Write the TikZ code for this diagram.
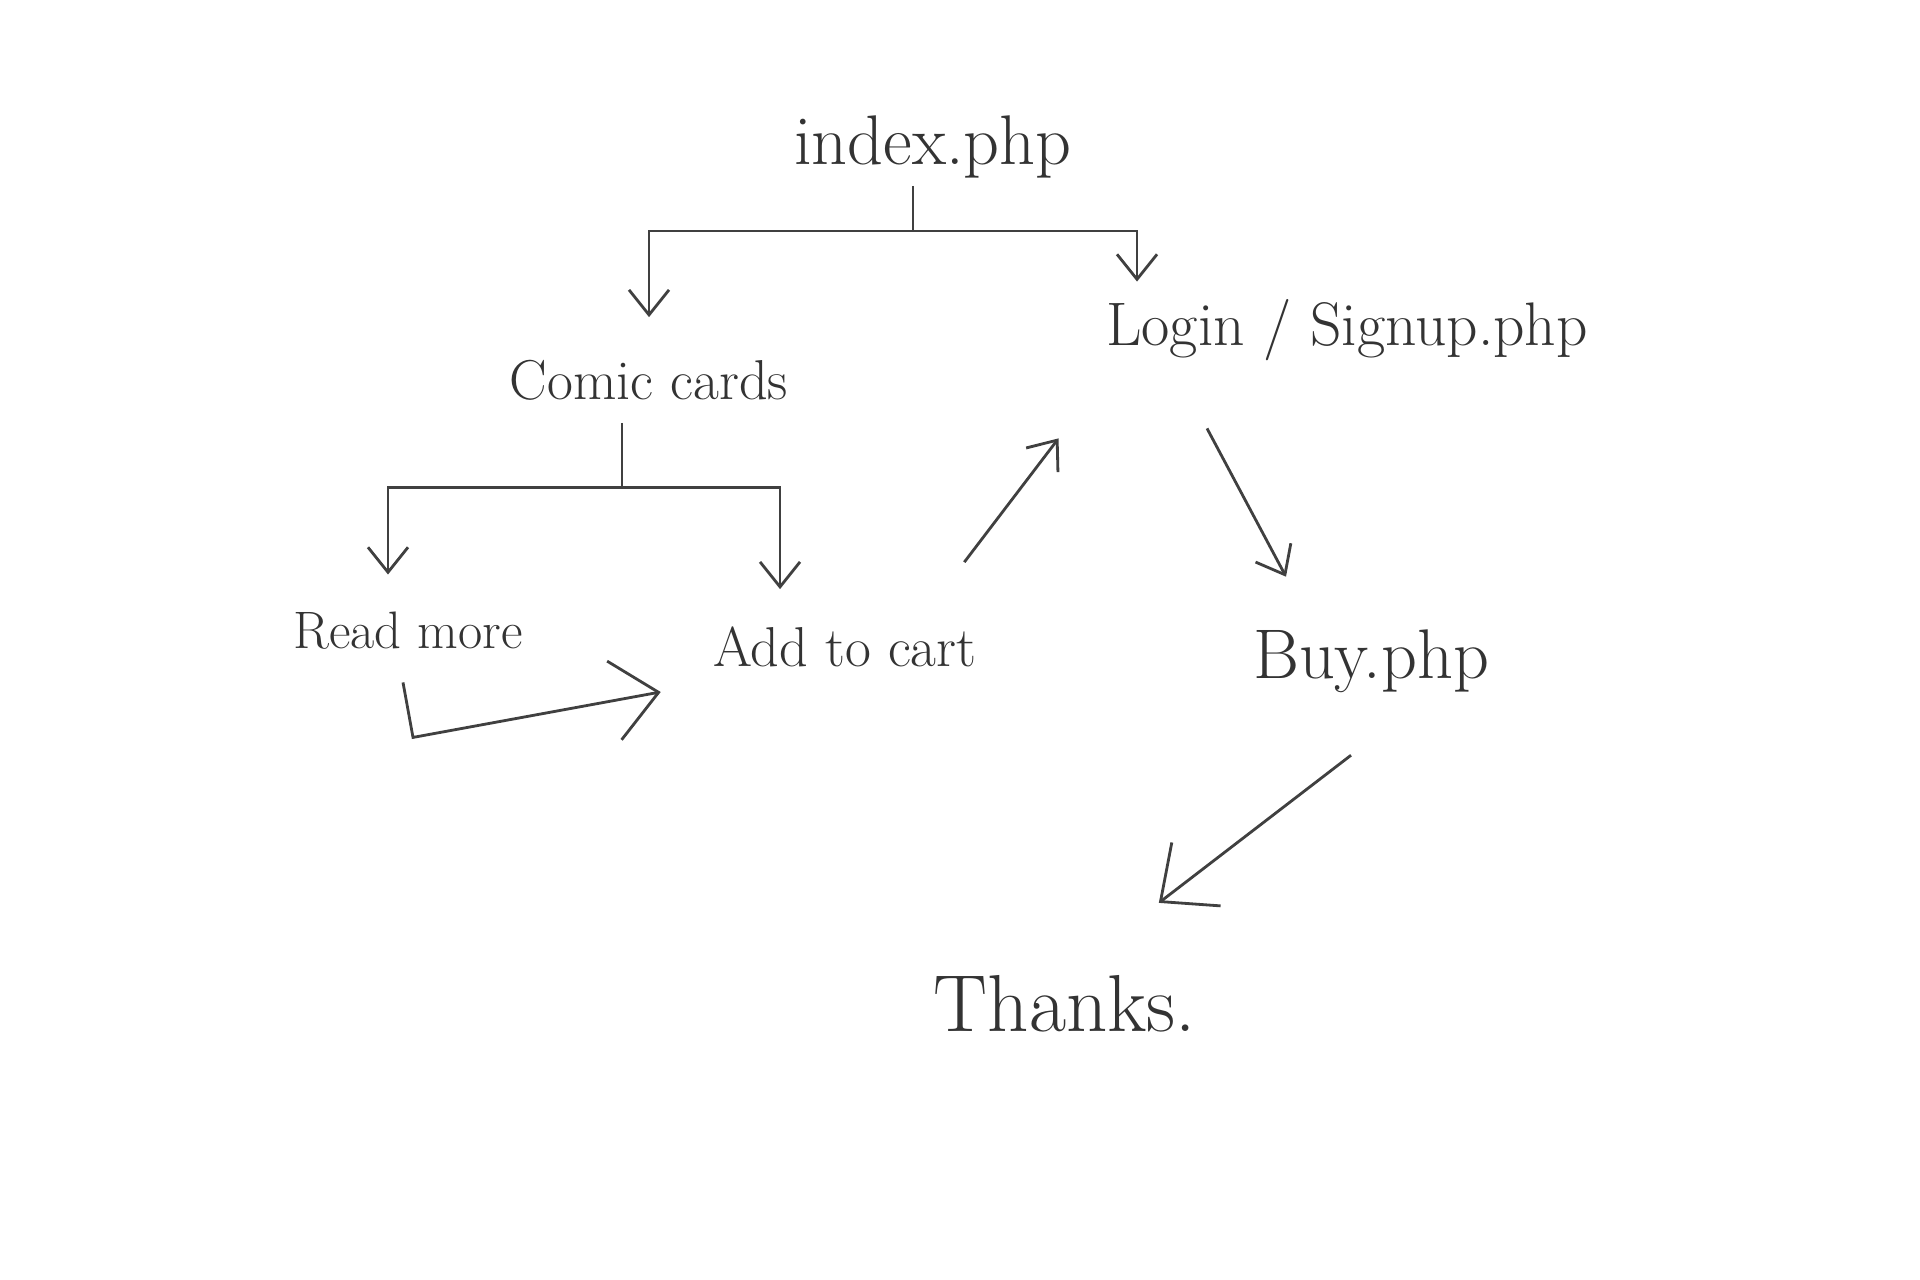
\documentclass[tikz,border=0pt]{standalone}
\usepackage{tikz}
\usetikzlibrary{arrows.meta,positioning,calc}

\begin{document}
\begin{tikzpicture}[node distance=2cm and 2cm, on grid, page/.style={inner sep=2pt,font=\fontsize{16}{19}\selectfont,text=black!80}, bigpage/.style={page,font=\fontsize{20}{24}\selectfont}, link/.style={-{Straight Barb[length=2.5mm,width=4mm]},line width=0.8pt,draw=black!75}, bigarr/.style={-{Straight Barb[length=4.5mm,width=8mm]},line width=0.8pt,draw=black!75}]
\useasboundingbox (0,0) rectangle (19.2,12.8);
\node[bigpage] (index) at (9.33,11.33) {index.php};
\node[page,below left=2.33cm and 2.84cm of index] (comic) {Comic cards};
\node[page,below right=1.83cm and 4.14cm of index,font=\fontsize{17.5}{21}\selectfont] (login) {Login / Signup.php};
\node[page,below left=2.51cm and 2.41cm of comic,font=\fontsize{15}{18}\selectfont] (readmore) {Read more};
\node[page,below right=2.67cm and 1.96cm of comic] (addcart) {Add to cart};
\node[page,below right=3.31cm and 0.24cm of login,font=\fontsize{20}{24}\selectfont] (buy) {Buy.php};
\node[bigpage,below left=3.43cm and 3.06cm of buy,font=\fontsize{23}{27}\selectfont] (thanks) {Thanks.};
% index -> children
\draw[link] ([xshift=-0.2cm]index.south) -- ++(0,-0.45) coordinate (ij) -| ([yshift=0.35cm]comic.north);
\draw[link] (ij) -| ([shift={(-2.1,0.1)}]login.north);
% comic cards -> children
\draw[link] ([shift={(-0.27,-0.15)}]comic.south) -- ++(0,-0.65) coordinate (cj) -| ([shift={(-0.2,0.3)}]readmore.north);
\draw[link] (cj) -| ([shift={(-0.65,0.3)}]addcart.north);
\draw[bigarr] ([shift={(-0.05,-0.25)}]readmore.south) -- ++(0.1,-0.55) -- ([shift={(-0.45,-0.45)}]addcart.west);
\draw[link] ([shift={(-0.2,0.57)}]addcart.north east) -- ([shift={(-0.4,-0.7)}]login.south west);
\draw[link] ([shift={(-1.4,-0.6)}]login.south) -- ([shift={(-0.85,0.45)}]buy.north);
\draw[bigarr] ([shift={(-0.2,-0.55)}]buy.south) -- ([shift={(-0.45,0.65)}]thanks.north east);
\end{tikzpicture}
\end{document}
